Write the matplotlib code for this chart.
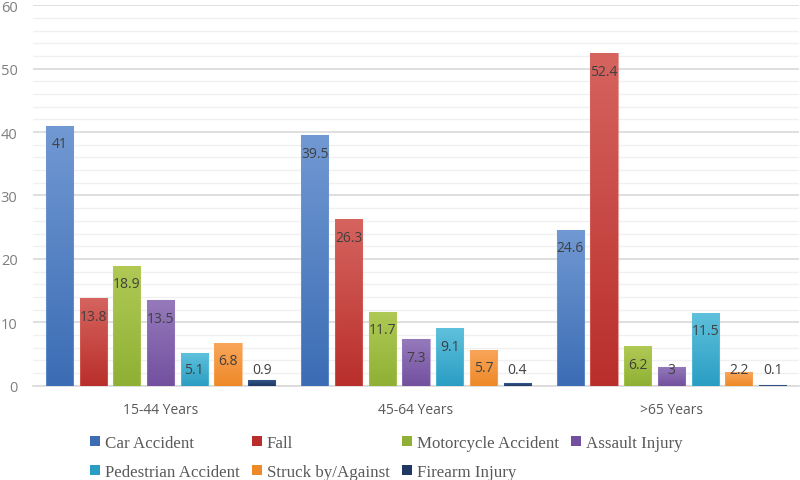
import numpy as np
import matplotlib
matplotlib.use("Agg")
import matplotlib.pyplot as plt
from matplotlib.colors import LinearSegmentedColormap
from matplotlib.patches import Patch

# Data
age_groups = ["15-44 Years", "45-64 Years", ">65 Years"]
causes = ["Car Accident", "Fall", "Motorcycle Accident", "Assault Injury",
          "Pedestrian Accident", "Struck by/Against", "Firearm Injury"]
car_accident = [41, 39.5, 24.6]
fall = [13.8, 26.3, 52.4]
motorcycle = [18.9, 11.7, 6.2]
assault = [13.5, 7.3, 3]
pedestrian = [5.1, 9.1, 11.5]
struck = [6.8, 5.7, 2.2]
firearm = [0.9, 0.4, 0.1]
series = [car_accident, fall, motorcycle, assault, pedestrian, struck, firearm]

# top / bottom gradient colours per series
grad_colors = [("#7199d3", "#3b6cb4"),
               ("#d6645f", "#b92e2b"),
               ("#b0ca55", "#8fb034"),
               ("#957abb", "#72509f"),
               ("#5fc1dc", "#2a9dc3"),
               ("#f9a65c", "#ee8927"),
               ("#325589", "#1f3763")]

fig = plt.figure(figsize=(8, 4.81), dpi=100)
ax = fig.add_axes([0.041, 0.196, 0.958, 0.791])

x = np.arange(len(age_groups))
step = 0.132
width = 0.106
grad = np.linspace(0, 1, 256).reshape(-1, 1)

for i, vals in enumerate(series):
    top, bottom = grad_colors[i]
    cmap = LinearSegmentedColormap.from_list("g%d" % i, [bottom, top])
    pos = x + (i - 3) * step
    bars = ax.bar(pos, vals, width, facecolor="none", edgecolor="none", zorder=3)
    for b, v in zip(bars, vals):
        bx = b.get_x()
        im = ax.imshow(grad, cmap=cmap, origin="lower", aspect="auto",
                       extent=[bx, bx + width, 0, v], zorder=3)
        im.set_clip_path(b)
        ax.add_patch(plt.Rectangle((bx, 0), width, v, fill=False,
                                   edgecolor=top, linewidth=0.8, alpha=0.6, zorder=4))
        ly = max(v - 2.85, 2.6)
        ax.text(bx + width / 2, ly, "%g" % v, ha="center", va="center",
                fontsize=10, color="#404040", family="Open Sans", zorder=5)

ax.set_xlim(-0.5, 2.5)
ax.set_ylim(0, 60)
ax.set_yticks(np.arange(0, 61, 10))
ax.set_yticks(np.arange(0, 61, 2), minor=True)
ax.grid(axis="y", which="major", color="#d9d9d9", linewidth=1.2, zorder=0)
ax.grid(axis="y", which="minor", color="#f0f0f0", linewidth=1.0, zorder=0)
ax.set_axisbelow(True)
for s in ["top", "right", "left"]:
    ax.spines[s].set_visible(False)
ax.spines["bottom"].set_color("#d9d9d9")
ax.spines["bottom"].set_linewidth(1.2)

ax.set_xticks(x)
ax.set_xticklabels(age_groups, fontsize=10, color="#595959", family="Open Sans")
ax.tick_params(axis="x", length=0, pad=12)
ax.tick_params(axis="y", which="both", length=0, pad=11, labelsize=10.5,
               labelcolor="#7f7f7f")
for t in ax.get_yticklabels():
    t.set_family("Open Sans")

# legend, row-wise order like the original
handles = [Patch(facecolor=grad_colors[i][1], edgecolor="none") for i in range(7)]
order = [0, 4, 1, 5, 2, 6, 3]
leg = fig.legend([handles[i] for i in order], [causes[i] for i in order],
                 ncol=4, loc="center left", bbox_to_anchor=(0.094, 0.047),
                 frameon=False, handlelength=0.55, handleheight=0.55,
                 handletextpad=0.3, columnspacing=0.75, labelspacing=0.8,
                 prop={"family": "Liberation Serif", "size": 12.2},
                 labelcolor="#595959")

fig.savefig("out.png", dpi=100)
